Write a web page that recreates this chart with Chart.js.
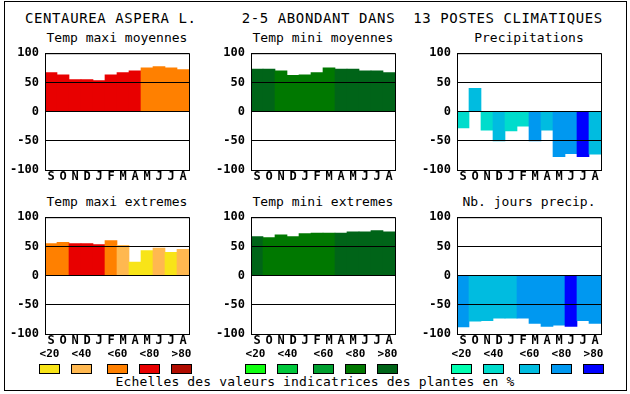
<!DOCTYPE html>
<html>
<head>
<meta charset="utf-8">
<script src="https://cdn.jsdelivr.net/npm/chart.js@4/dist/chart.umd.min.js"></script>
<style>
  body { margin: 0; background: #fff; }
  #page { position: relative; width: 630px; height: 394px; overflow: hidden; font-family: "DejaVu Sans Mono", monospace; color: #000; }
  .cadre { position: absolute; left: 4px; top: 1px; width: 623px; height: 390px; border: 1px solid #000; box-sizing: border-box; }
  .titre { position: absolute; left: 25px; top: 10px; line-height: 16px; font-size: 14px; letter-spacing: 0.6px; white-space: pre; }
  .sous { position: absolute; width: 144px; line-height: 16px; font-size: 13px; text-align: center; white-space: pre; }
  .leg { position: absolute; width: 21px; text-align: center; font-size: 11px; font-weight: bold; line-height: 12px; }
  .box { position: absolute; width: 21px; height: 10px; border: 1px solid #000; box-sizing: border-box; }
  .caption { position: absolute; left: 0; width: 630px; top: 374px; line-height: 16px; text-align: center; font-size: 13px; letter-spacing: 0.15px; white-space: pre; }
  canvas { position: absolute; }
</style>
</head>
<body>
<div id="page">
  <div class="cadre"></div>
  <div class="titre">CENTAUREA ASPERA L.     2-5 ABONDANT DANS  13 POSTES CLIMATIQUES</div>
  <div class="caption">Echelles des valeurs indicatrices des plantes en %</div>
</div>
<script>
// ================= DONNEES
const mois = ["S", "O", "N", "D", "J", "F", "M", "A", "M", "J", "J", "A"];
const yTicks = [100, 50, 0, -50, -100];
const classes = ["<20", "<40", "<60", "<80", ">80"];

const rouges = ["#f8e418", "#ffb850", "#ff8000", "#e80000", "#b00c00"];
const verts = ["#10ff10", "#00c83c", "#00a030", "#007800", "#006418"];
const bleus = ["#00ffb0", "#00dccc", "#00bce0", "#0098f0", "#0000ff"];

const maxiMoy = [67, 63, 55, 55, 53, 63, 67, 70, 75, 77, 75, 72];
const maxiMoyCls = [3, 3, 3, 3, 3, 3, 3, 3, 2, 2, 2, 2];

const miniMoy = [73, 73, 70, 62, 63, 67, 75, 73, 73, 70, 70, 67];
const miniMoyCls = [4, 4, 3, 3, 3, 3, 3, 4, 4, 4, 4, 4];

const precip = [-28, 40, -32, -50, -33, -25, -50, -32, -77, -72, -77, -73];
const precipCls = [1, 2, 1, 2, 1, 1, 3, 2, 3, 3, 4, 2];

const maxiExt = [55, 57, 55, 55, 53, 60, 52, 23, 43, 47, 40, 45];
const maxiExtCls = [2, 2, 3, 3, 3, 2, 1, 0, 0, 1, 0, 1];

const miniExt = [67, 65, 70, 67, 72, 73, 73, 73, 75, 75, 77, 75];
const miniExtCls = [4, 3, 3, 3, 3, 3, 3, 4, 4, 4, 4, 4];

const jours = [-88, -78, -77, -73, -73, -73, -82, -87, -85, -87, -77, -82];
const joursCls = [3, 2, 2, 2, 2, 3, 3, 3, 3, 4, 3, 3];

// ================= MISE EN PAGE
const colX = [45, 251, 457];
const rowY = [50, 214];
const legOffsets = [0, 32, 68, 100, 132];

const panels = [
  { titre: "Temp maxi moyennes", data: maxiMoy, cls: maxiMoyCls, pal: rouges, col: 0, row: 0 },
  { titre: "Temp mini moyennes", data: miniMoy, cls: miniMoyCls, pal: verts, col: 1, row: 0 },
  { titre: "Precipitations", data: precip, cls: precipCls, pal: bleus, col: 2, row: 0 },
  { titre: "Temp maxi extremes", data: maxiExt, cls: maxiExtCls, pal: rouges, col: 0, row: 1 },
  { titre: "Temp mini extremes", data: miniExt, cls: miniExtCls, pal: verts, col: 1, row: 1 },
  { titre: "Nb. jours precip.", data: jours, cls: joursCls, pal: bleus, col: 2, row: 1 },
];

const page = document.getElementById("page");

// cadre noir autour de la zone de trace
const cadrePlot = {
  id: "cadrePlot",
  afterDraw(chart) {
    const a = chart.chartArea;
    const ctx = chart.ctx;
    ctx.save();
    ctx.strokeStyle = "#000";
    ctx.lineWidth = 1;
    ctx.strokeRect(a.left + 0.5, a.top + 0.5, a.right - a.left, a.bottom - a.top);
    ctx.restore();
  },
};

const tickFont = { family: "'DejaVu Sans Mono', monospace", size: 12, weight: "bold" };

panels.forEach((p) => {
  const left = colX[p.col];
  const top = rowY[p.row];

  const t = document.createElement("div");
  t.className = "sous";
  t.style.left = left + "px";
  t.style.top = top - 20 + "px";
  t.textContent = p.titre;
  page.appendChild(t);

  const c = document.createElement("canvas");
  c.width = 191;
  c.height = 150;
  c.style.left = left - 45 + "px";
  c.style.top = top - 10 + "px";
  page.appendChild(c);

  new Chart(c, {
    type: "bar",
    data: {
      labels: mois,
      datasets: [
        {
          data: p.data,
          backgroundColor: p.cls.map((k) => p.pal[k]),
          borderWidth: 0,
          barPercentage: 1,
          categoryPercentage: 1,
        },
      ],
    },
    options: {
      responsive: false,
      animation: false,
      devicePixelRatio: 1,
      layout: { padding: { top: 10, right: 2, left: 0, bottom: 0 } },
      plugins: { legend: { display: false }, tooltip: { enabled: false } },
      scales: {
        x: {
          grid: { display: false, drawTicks: false },
          border: { display: false },
          ticks: { color: "#000", font: tickFont, padding: 0, maxRotation: 0, autoSkip: false },
          afterFit: (s) => { s.height = 20; },
        },
        y: {
          min: -100,
          max: 100,
          afterBuildTicks: (s) => { s.ticks = yTicks.map((v) => ({ value: v })); },
          grid: { color: "#000", lineWidth: 1, drawTicks: false, z: 1 },
          border: { display: false },
          ticks: { color: "#000", font: tickFont, padding: 6 },
          afterFit: (s) => { s.width = 45; },
        },
      },
    },
    plugins: [cadrePlot],
  });
});

// ================= LEGENDE
[rouges, verts, bleus].forEach((pal, g) => {
  const x0 = colX[g] - 6;
  pal.forEach((col, k) => {
    const l = document.createElement("div");
    l.className = "leg";
    l.style.left = x0 + legOffsets[k] + "px";
    l.style.top = "348px";
    l.textContent = classes[k];
    page.appendChild(l);

    const b = document.createElement("div");
    b.className = "box";
    b.style.left = x0 + legOffsets[k] + "px";
    b.style.top = "364px";
    b.style.background = col;
    page.appendChild(b);
  });
});
</script>
</body>
</html>
